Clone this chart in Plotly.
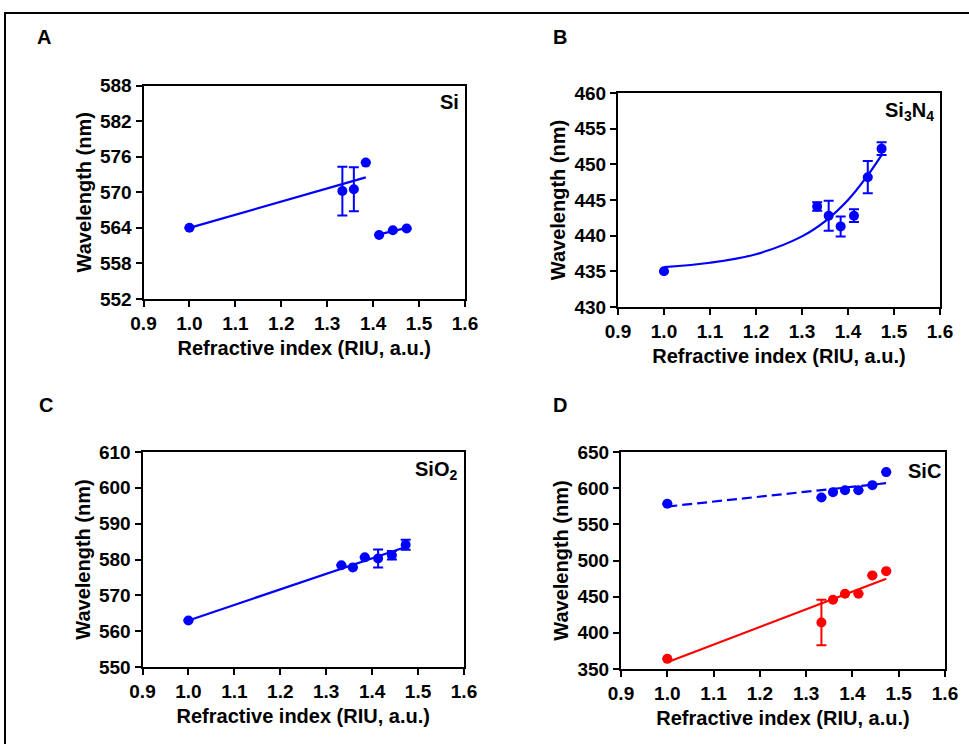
import plotly.graph_objects as go

W, H = 969, 744

# ---------------- data ----------------
ri = [1.0, 1.333, 1.358, 1.384, 1.413, 1.443, 1.473]

# Panel A: Si
si_y = [564.0, 570.2, 570.5, 575.0, 562.8, 563.6, 563.9]
si_err = [0, 4.1, 3.7, 0, 0, 0, 0]
si_fit1_x = [1.0, 1.384]
si_fit1_y = [564.0, 572.5]
si_fit2_x = [1.413, 1.473]
si_fit2_y = [562.9, 564.0]

# Panel B: Si3N4
sin_y = [435.0, 444.1, 442.8, 441.3, 442.8, 448.2, 452.2]
sin_err = [0, 0.6, 2.1, 1.4, 0.9, 2.25, 0.9]
sin_fit_x = [1.0, 1.1, 1.2, 1.3, 1.35, 1.4, 1.44, 1.473]
sin_fit_y = [435.6, 436.2, 437.4, 439.9, 442.0, 445.0, 448.2, 451.3]

# Panel C: SiO2
sio_y = [563.0, 578.4, 577.8, 580.6, 580.3, 581.2, 584.1]
sio_err = [0, 0, 0, 0, 2.5, 1.2, 1.4]
sio_fit_x = [1.0, 1.473]
sio_fit_y = [563.0, 583.5]

# Panel D: SiC (two series)
sic_blue_y = [578.4, 587.1, 594.5, 597.2, 597.2, 604.2, 622.2]
sic_blue_fit_x = [1.0, 1.473]
sic_blue_fit_y = [574.6, 606.9]
sic_red_y = [364.0, 414.3, 445.7, 454.0, 454.0, 479.4, 485.3]
sic_red_err = [0, 31.5, 0, 0, 0, 0, 0]
sic_red_fit_x = [1.0, 1.473]
sic_red_fit_y = [359.3, 474.8]

x_ticks = [0.9, 1.0, 1.1, 1.2, 1.3, 1.4, 1.5, 1.6]
a_ticks = [552, 558, 564, 570, 576, 582, 588]
b_ticks = [430, 435, 440, 445, 450, 455, 460]
c_ticks = [550, 560, 570, 580, 590, 600, 610]
d_ticks = [350, 400, 450, 500, 550, 600, 650]

BLUE = "#0000FF"
RED = "#FF0000"
FONT = "Liberation Sans, Arial, sans-serif"

# ---------------- figure ----------------
fig = go.Figure()


def px_x(p):
    return p / W


def px_y(p):
    return 1 - p / H


def add_points(y, err, color, xa, ya):
    fig.add_trace(go.Scatter(
        x=ri, y=y, mode="markers",
        marker=dict(color=color, size=10),
        error_y=dict(type="data", array=err, visible=True, color=color,
                     thickness=2, width=5),
        xaxis=xa, yaxis=ya, showlegend=False, cliponaxis=False))


def add_line(x, y, color, xa, ya, dash="solid", shape="linear"):
    fig.add_trace(go.Scatter(
        x=x, y=y, mode="lines",
        line=dict(color=color, width=2.2, dash=dash, shape=shape),
        xaxis=xa, yaxis=ya, showlegend=False))


# A
add_line(si_fit1_x, si_fit1_y, BLUE, "x", "y")
add_line(si_fit2_x, si_fit2_y, BLUE, "x", "y")
add_points(si_y, si_err, BLUE, "x", "y")
# B
add_line(sin_fit_x, sin_fit_y, BLUE, "x2", "y2", shape="spline")
add_points(sin_y, sin_err, BLUE, "x2", "y2")
# C
add_line(sio_fit_x, sio_fit_y, BLUE, "x3", "y3")
add_points(sio_y, sio_err, BLUE, "x3", "y3")
# D
add_line(sic_blue_fit_x, sic_blue_fit_y, BLUE, "x4", "y4", dash="10px,5px")
add_points(sic_blue_y, [0] * len(ri), BLUE, "x4", "y4")
add_line(sic_red_fit_x, sic_red_fit_y, RED, "x4", "y4")
add_points(sic_red_y, sic_red_err, RED, "x4", "y4")

tickfont = dict(family=FONT, size=19, color="black", weight="bold")
titlefont = dict(family=FONT, size=20, color="black", weight="bold")


def xaxis(dom, anchor):
    return dict(domain=dom, anchor=anchor, range=[0.9, 1.6], tickvals=x_ticks,
                ticktext=[f"{v:.1f}" for v in x_ticks], automargin=False,
                showgrid=False, zeroline=False, showline=True, mirror=True,
                linecolor="black", linewidth=2, ticks="outside", ticklen=6,
                tickwidth=2, tickcolor="black", tickfont=tickfont,
                title=dict(text="Refractive index (RIU, a.u.)", font=titlefont,
                           standoff=8))


def yaxis(dom, anchor, rng, ticks):
    return dict(domain=dom, anchor=anchor, range=rng, tickvals=ticks,
                automargin=False,
                showgrid=False, zeroline=False, showline=True, mirror=True,
                linecolor="black", linewidth=2, ticks="outside", ticklen=6,
                tickwidth=2, tickcolor="black", tickfont=tickfont,
                title=dict(text="Wavelength (nm)", font=titlefont, standoff=3))


# panel pixel geometry in window pixels (left, right, top, bottom)
A = (143.5, 465, 85.5, 299)
B = (618, 940, 93, 307)
C = (142.5, 464, 452, 667)
D = (621, 945, 452, 669)


def dx(p):
    return [px_x(p[0]), px_x(p[1])]


def dy(p):
    return [px_y(p[3]), px_y(p[2])]


fig.update_layout(
    template="none",
    width=W, height=H, margin=dict(l=0, r=0, t=0, b=0, autoexpand=False),
    paper_bgcolor="white", plot_bgcolor="white",
    font=dict(family=FONT, color="black"),
    xaxis=xaxis(dx(A), "y"), yaxis=yaxis(dy(A), "x", [552, 588], a_ticks),
    xaxis2=xaxis(dx(B), "y2"), yaxis2=yaxis(dy(B), "x2", [430, 460], b_ticks),
    xaxis3=xaxis(dx(C), "y3"), yaxis3=yaxis(dy(C), "x3", [550, 610], c_ticks),
    xaxis4=xaxis(dx(D), "y4"), yaxis4=yaxis(dy(D), "x4", [350, 650], d_ticks),
)

# outer frame
fig.add_shape(type="rect", xref="paper", yref="paper",
              x0=px_x(5), y0=px_y(790), x1=px_x(1010), y1=px_y(13),
              line=dict(color="black", width=2), fillcolor="rgba(0,0,0,0)")

annots = []
# panel letters
for letter, (lx, ly) in {"A": (44, 37), "B": (560, 37), "C": (46, 405), "D": (560, 405)}.items():
    annots.append(dict(text=letter, x=px_x(lx), y=px_y(ly), xref="paper", yref="paper",
                       showarrow=False, font=dict(family=FONT, size=20, color="black", weight="bold"),
                       xanchor="center", yanchor="middle"))
# material labels
labels = [("Si", 461, 102), ("Si<sub>3</sub>N<sub>4</sub>", 936, 112),
          ("SiO<sub>2</sub>", 459, 470), ("SiC", 943, 471)]
for txt, lx, ly in labels:
    annots.append(dict(text=txt, x=px_x(lx), y=px_y(ly), xref="paper", yref="paper",
                       showarrow=False, font=dict(family=FONT, size=20, color="black", weight="bold"),
                       xanchor="right", yanchor="middle"))
fig.update_layout(annotations=annots)

fig.write_html(
    "out.html",
    config={"displayModeBar": False},
    post_script="document.body.style.margin='0';document.body.style.overflow='hidden';",
)
